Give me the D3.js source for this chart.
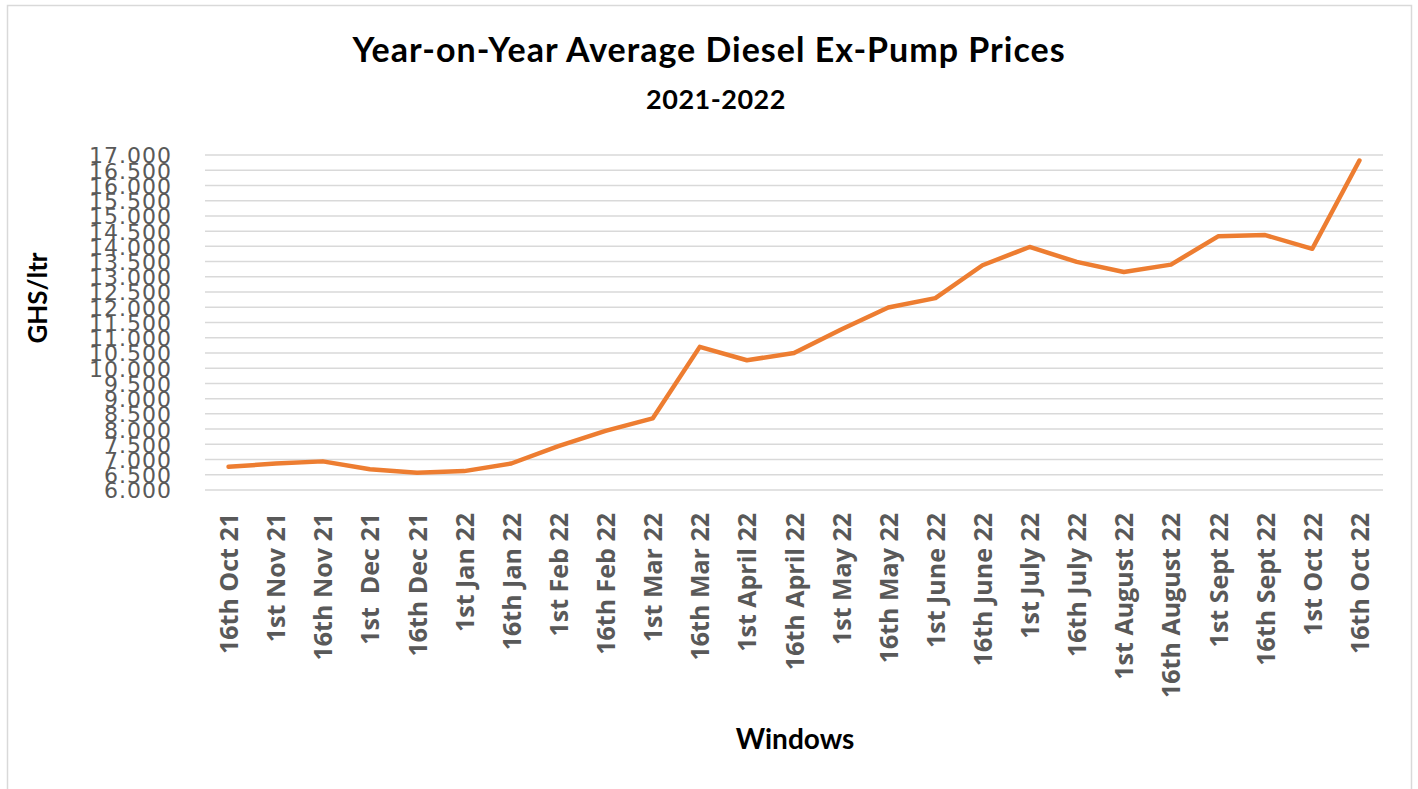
<!DOCTYPE html>
<html>
<head>
<meta charset="utf-8">
<script src="https://cdn.jsdelivr.net/npm/d3@7"></script>
<style>
  body { margin: 0; background: #fff; }
  .grid line { stroke: #d9d9d9; stroke-width: 1.5; }
  .y-axis text { font-family: "DejaVu Sans", sans-serif; font-size: 22px; fill: #595959; letter-spacing: 1px; }
  .x-axis text { font-family: "Open Sans", sans-serif; font-weight: 700; font-size: 25px; fill: #595959; }
  .title { font-family: Lato, sans-serif; font-weight: 700; fill: #000; }
</style>
</head>
<body>
<div class="chart"></div>
<script>
// data
const windows = ["16th Oct 21", "1st Nov 21", "16th Nov 21", "1st  Dec 21", "16th Dec 21",
  "1st Jan 22", "16th Jan 22", "1st Feb 22", "16th Feb 22", "1st Mar 22", "16th Mar 22",
  "1st April 22", "16th April 22", "1st May 22", "16th May 22", "1st June 22", "16th June 22",
  "1st July 22", "16th July 22", "1st August 22", "16th August 22", "1st Sept 22",
  "16th Sept 22", "1st Oct 22", "16th Oct 22"];
const prices = [6.76, 6.87, 6.94, 6.68, 6.57, 6.62, 6.87, 7.44, 7.94, 8.35, 10.70,
  10.26, 10.50, 11.27, 11.99, 12.30, 13.38, 13.98, 13.49, 13.16, 13.40, 14.33,
  14.37, 13.92, 16.82];
const yTicks = d3.range(6, 17.001, 0.5);

const W = 1418, H = 789;
const plot = {left: 205, right: 1383, top: 155, bottom: 490};

const svg = d3.select(".chart").append("svg")
    .attr("width", W)
    .attr("height", H);

// outer frame
svg.append("rect")
    .attr("x", 7.5).attr("y", 5.5)
    .attr("width", 1404).attr("height", 800)
    .attr("fill", "none")
    .attr("stroke", "#d9d9d9")
    .attr("stroke-width", 1.5);

const xScale = d3.scalePoint()
    .domain(windows)
    .range([plot.left, plot.right])
    .padding(0.5);

const yScale = d3.scaleLinear()
    .domain([6, 17])
    .range([plot.bottom, plot.top]);

// gridlines
svg.append("g")
    .attr("class", "grid")
    .selectAll("line")
    .data(yTicks)
    .join("line")
    .attr("x1", plot.left).attr("x2", plot.right)
    .attr("y1", d => yScale(d)).attr("y2", d => yScale(d));

const yAxis = d3.axisLeft(yScale)
    .tickValues(yTicks)
    .tickFormat(d3.format(".3f"))
    .tickSize(0)
    .tickPadding(33);

svg.append("g")
    .attr("class", "axis y-axis")
    .attr("transform", `translate(${plot.left},0)`)
    .call(yAxis)
    .call(g => g.select(".domain").remove())
    .selectAll("text").attr("dy", "0.36em");

const xAxis = d3.axisBottom(xScale).tickSize(0);

svg.append("g")
    .attr("class", "axis x-axis")
    .attr("transform", `translate(0,${plot.bottom})`)
    .call(xAxis)
    .call(g => g.select(".domain").remove())
    .selectAll("text")
    .style("white-space", "pre")
    .attr("transform", "rotate(-90)")
    .attr("text-anchor", "end")
    .attr("x", -23)
    .attr("y", 0)
    .attr("dy", "0.36em");

// line
const line = d3.line()
    .x((d, i) => xScale(windows[i]))
    .y(d => yScale(d));

svg.append("path")
    .datum(prices)
    .attr("d", line)
    .attr("fill", "none")
    .attr("stroke", "#ed7d31")
    .attr("stroke-width", 4.5)
    .attr("stroke-linejoin", "round")
    .attr("stroke-linecap", "round");

// titles
svg.append("text")
    .attr("class", "title")
    .attr("x", 709).attr("y", 62)
    .attr("text-anchor", "middle")
    .style("font-size", "34px")
    .style("letter-spacing", "1px")
    .text("Year-on-Year Average Diesel Ex-Pump Prices");

svg.append("text")
    .attr("class", "title")
    .attr("x", 716).attr("y", 109)
    .attr("text-anchor", "middle")
    .style("font-size", "27px")
    .style("letter-spacing", "0.5px")
    .text("2021-2022");

svg.append("text")
    .attr("class", "title")
    .attr("transform", "translate(47,298) rotate(-90)")
    .attr("text-anchor", "middle")
    .style("font-size", "26px")
    .text("GHS/ltr");

svg.append("text")
    .attr("class", "title")
    .attr("x", 795).attr("y", 749)
    .attr("text-anchor", "middle")
    .style("font-size", "28px")
    .text("Windows");
</script>
</body>
</html>
